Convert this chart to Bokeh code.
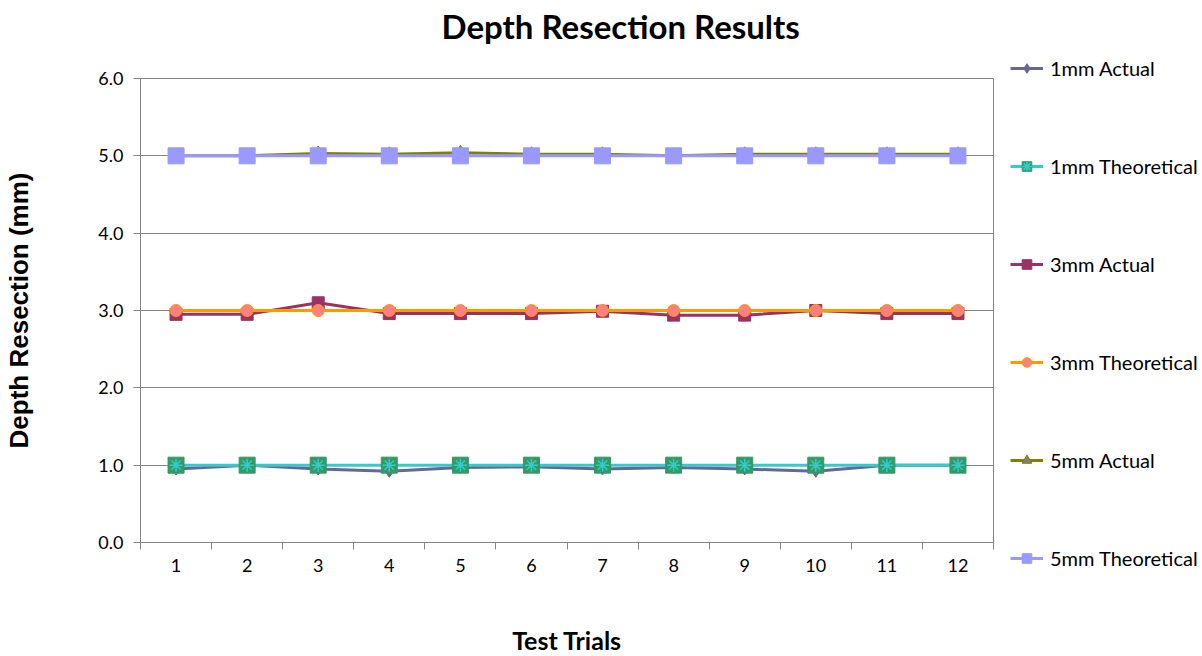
from bokeh.plotting import figure
from bokeh.models import (Range1d, FixedTicker, NumeralTickFormatter, Title,
                          Legend, LegendItem, ColumnDataSource)
from bokeh.embed import file_html
from bokeh.resources import INLINE

# ---- data ----
trials = [1, 2, 3, 4, 5, 6, 7, 8, 9, 10, 11, 12]
tick_labels = ["1", "2", "3", "4", "5", "6", "7", "8", "9", "10", "11", "12"]
actual_1mm = [0.95, 1.0, 0.95, 0.92, 0.97, 0.98, 0.95, 0.97, 0.95, 0.92, 1.0, 1.0]
theoretical_1mm = [1.0, 1.0, 1.0, 1.0, 1.0, 1.0, 1.0, 1.0, 1.0, 1.0, 1.0, 1.0]
actual_3mm = [2.95, 2.95, 3.1, 2.96, 2.96, 2.96, 2.99, 2.94, 2.94, 3.0, 2.96, 2.96]
theoretical_3mm = [3.0, 3.0, 3.0, 3.0, 3.0, 3.0, 3.0, 3.0, 3.0, 3.0, 3.0, 3.0]
actual_5mm = [5.0, 5.0, 5.03, 5.02, 5.04, 5.02, 5.02, 5.0, 5.02, 5.02, 5.02, 5.02]
theoretical_5mm = [5.0, 5.0, 5.0, 5.0, 5.0, 5.0, 5.0, 5.0, 5.0, 5.0, 5.0, 5.0]
y_ticks = [0, 1, 2, 3, 4, 5, 6]

FONT = "Lato"
GRAY = "#868686"

p = figure(frame_width=853, frame_height=464, output_backend="svg",
           toolbar_location=None,
           x_range=Range1d(0.5, 12.5), y_range=Range1d(0, 6),
           min_border_left=140, min_border_right=209,
           min_border_top=78, min_border_bottom=100)
p.outline_line_color = GRAY
p.outline_line_width = 1
p.background_fill_color = "white"
p.border_fill_color = "white"

p.title = Title(text="Depth Resection Results", align="left", offset=301,
                standoff=0, text_font=FONT, text_font_style="bold",
                text_font_size="33px", text_color="black")
# invisible spacer between the title and the plot frame
p.add_layout(Title(text=" ", standoff=30, text_font_size="1px"), "above")

# axes
p.xaxis.ticker = FixedTicker(ticks=trials,
                             minor_ticks=[t - 0.5 for t in trials] + [12.5])
p.xaxis.major_label_overrides = {t: l for t, l in zip(trials, tick_labels)}
p.xaxis.major_tick_out = 0
p.xaxis.major_tick_in = 0
p.xaxis.minor_tick_out = 7
p.xaxis.minor_tick_in = 0
p.xaxis.minor_tick_line_color = GRAY
p.xaxis.major_label_standoff = 9
p.xaxis.axis_label = "Test Trials"
p.xaxis.axis_label_standoff = 50
p.xaxis.axis_label_text_font = FONT
p.xaxis.axis_label_text_font_size = "25px"

p.yaxis.ticker = FixedTicker(ticks=y_ticks)
p.yaxis.formatter = NumeralTickFormatter(format="0.0")
p.yaxis.major_tick_out = 7
p.yaxis.major_tick_in = 0
p.yaxis.minor_tick_line_color = None
p.yaxis.major_label_standoff = 10
p.yaxis.axis_label = "Depth Resection (mm)"
p.yaxis.axis_label_standoff = 61
p.yaxis.axis_label_text_font = "Liberation Sans"
p.yaxis.axis_label_text_font_size = "26px"

for ax in (p.xaxis[0], p.yaxis[0]):
    ax.axis_line_color = GRAY
    ax.axis_line_width = 1
    ax.major_label_text_font = FONT
    ax.major_label_text_font_size = "18px"
    ax.major_label_text_color = "black"
    ax.axis_label_text_font_style = "bold"
    ax.axis_label_text_color = "black"
p.xaxis.major_tick_line_color = None
p.yaxis.major_tick_line_color = GRAY
p.xgrid.grid_line_color = None
p.ygrid.ticker = FixedTicker(ticks=y_ticks)
p.ygrid.grid_line_color = GRAY
p.ygrid.grid_line_width = 1

# series
items = []

src = ColumnDataSource(dict(x=trials, y=actual_1mm))
l1 = p.line("x", "y", source=src, line_color="#666699", line_width=3)
m1 = p.scatter("x", "y", source=src, marker="diamond", size=12,
               fill_color="#666699", line_color="#666699")
items.append(LegendItem(label="1mm Actual", renderers=[l1, m1]))

src = ColumnDataSource(dict(x=trials, y=theoretical_1mm))
l2 = p.line("x", "y", source=src, line_color="#33CCCC", line_width=3)
m2a = p.scatter("x", "y", source=src, marker="square", size=16,
                fill_color="#339966", line_color="#339966")
m2b = p.scatter("x", "y", source=src, marker="asterisk", size=13,
                line_color="#33CCCC", line_width=1.5)
items.append(LegendItem(label="1mm Theoretical", renderers=[l2, m2a, m2b]))

src = ColumnDataSource(dict(x=trials, y=actual_3mm))
l3 = p.line("x", "y", source=src, line_color="#993366", line_width=3)
m3 = p.scatter("x", "y", source=src, marker="square", size=12,
               fill_color="#993366", line_color="#993366")
items.append(LegendItem(label="3mm Actual", renderers=[l3, m3]))

src = ColumnDataSource(dict(x=trials, y=theoretical_3mm))
l4 = p.line("x", "y", source=src, line_color="#FF9900", line_width=3)
m4 = p.scatter("x", "y", source=src, marker="circle", size=12,
               fill_color="#FF8080", line_color="#FF9900", line_width=1)
items.append(LegendItem(label="3mm Theoretical", renderers=[l4, m4]))

src = ColumnDataSource(dict(x=trials, y=actual_5mm))
l5 = p.line("x", "y", source=src, line_color="#808000", line_width=3)
m5 = p.scatter("x", "y", source=src, marker="triangle", size=13,
               fill_color="#808080", line_color="#808000", line_width=1)
items.append(LegendItem(label="5mm Actual", renderers=[l5, m5]))

src = ColumnDataSource(dict(x=trials, y=theoretical_5mm))
l6 = p.line("x", "y", source=src, line_color="#9999FF", line_width=3)
m6 = p.scatter("x", "y", source=src, marker="square", size=16,
               fill_color="#9999FF", line_color="#9999FF")
items.append(LegendItem(label="5mm Theoretical", renderers=[l6, m6]))

legend = Legend(items=items, location=(17, -28),
                border_line_color=None, background_fill_alpha=0,
                padding=0, margin=0, spacing=74,
                glyph_width=33, glyph_height=24, label_height=24,
                label_standoff=7,
                label_text_font=FONT, label_text_font_size="20px",
                label_text_color="black", label_text_baseline="middle")
p.add_layout(legend, "right")

open("out.html", "w").write(file_html(p, INLINE))
